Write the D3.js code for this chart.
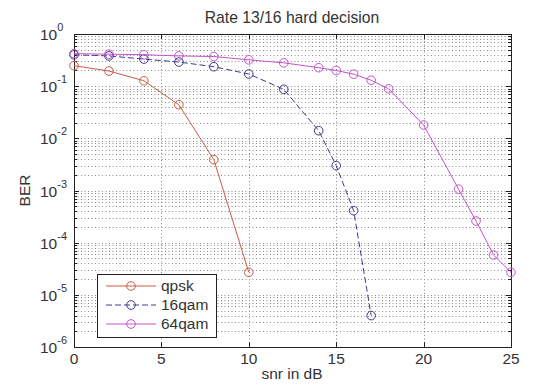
<!DOCTYPE html>
<html>
<head>
<meta charset="utf-8">
<script src="https://cdn.jsdelivr.net/npm/d3@7"></script>
<style>
  body { margin: 0; background: #fff; }
  svg text { font-family: "Liberation Sans", Arial, sans-serif; fill: #333; }
</style>
</head>
<body>
<svg id="chart" width="533" height="387"></svg>
<script>
// data
const snrQpsk = [0, 2, 4, 6, 8, 10];
const berQpsk = [0.247, 0.195, 0.127, 0.044, 0.0039, 2.7e-5];

const snr16 = [0, 2, 4, 6, 8, 10, 12, 14, 15, 16, 17];
const ber16 = [0.40, 0.38, 0.33, 0.29, 0.236, 0.171, 0.087, 0.014, 0.003, 4.1e-4, 4e-6];

const snr64 = [0, 2, 4, 6, 8, 10, 12, 14, 15, 16, 17, 18, 20, 22, 23, 24, 25];
const ber64 = [0.42, 0.41, 0.40, 0.38, 0.37, 0.32, 0.28, 0.226, 0.2, 0.17, 0.13, 0.089, 0.018, 0.00106, 2.6e-4, 5.8e-5, 2.7e-5];

const xTicks = [0, 5, 10, 15, 20, 25];
const yExponents = [0, -1, -2, -3, -4, -5, -6];
const seriesNames = ["qpsk", "16qam", "64qam"];

const title = "Rate 13/16 hard decision";
const xLabel = "snr in dB";
const yLabel = "BER";

const series = [
    { name: seriesNames[0], x: snrQpsk, y: berQpsk, color: "#cc5a4a", dash: null },
    { name: seriesNames[1], x: snr16, y: ber16, color: "#3c3c8c", dash: "6,3" },
    { name: seriesNames[2], x: snr64, y: ber64, color: "#c452cc", dash: null }
];

const svg = d3.select("#chart");
const pLeft = 74, pRight = 511, pTop = 34, pBottom = 347;

const x = d3.scaleLinear().domain([0, 25]).range([pLeft, pRight]);
const y = d3.scaleLog().domain([1e-6, 1]).range([pBottom, pTop]);

// grid
const grid = svg.append("g")
    .attr("stroke", "#8a8a8a")
    .attr("stroke-width", 1)
    .attr("stroke-dasharray", "1,2.5");

const minorVals = [];
for (let e = -6; e < 0; e++) {
    for (let m = 2; m <= 9; m++) minorVals.push(m * Math.pow(10, e));
}
const majorVals = yExponents.slice(1, -1).map(e => Math.pow(10, e));

grid.selectAll("line.ygrid")
    .data(minorVals.concat(majorVals))
    .enter().append("line")
    .attr("x1", pLeft).attr("x2", pRight)
    .attr("y1", d => Math.round(y(d)) + 0.5)
    .attr("y2", d => Math.round(y(d)) + 0.5);

grid.selectAll("line.xgrid")
    .data(xTicks.slice(1, -1))
    .enter().append("line")
    .attr("y1", pTop).attr("y2", pBottom)
    .attr("x1", d => Math.round(x(d)) + 0.5)
    .attr("x2", d => Math.round(x(d)) + 0.5);

// ticks (inward, on all four sides)
const ticks = svg.append("g").attr("stroke", "#222").attr("stroke-width", 1);
xTicks.forEach(t => {
    const px = Math.round(x(t)) + 0.5;
    ticks.append("line").attr("x1", px).attr("x2", px).attr("y1", pBottom).attr("y2", pBottom - 5);
    ticks.append("line").attr("x1", px).attr("x2", px).attr("y1", pTop).attr("y2", pTop + 5);
});
yExponents.forEach(e => {
    const py = Math.round(y(Math.pow(10, e))) + 0.5;
    ticks.append("line").attr("x1", pLeft).attr("x2", pLeft + 5).attr("y1", py).attr("y2", py);
    ticks.append("line").attr("x1", pRight).attr("x2", pRight - 5).attr("y1", py).attr("y2", py);
});
minorVals.forEach(v => {
    const py = Math.round(y(v)) + 0.5;
    ticks.append("line").attr("x1", pLeft).attr("x2", pLeft + 3).attr("y1", py).attr("y2", py);
    ticks.append("line").attr("x1", pRight).attr("x2", pRight - 3).attr("y1", py).attr("y2", py);
});

// frame
svg.append("rect")
    .attr("x", pLeft + 0.5).attr("y", pTop + 0.5)
    .attr("width", pRight - pLeft).attr("height", pBottom - pTop)
    .attr("fill", "none").attr("stroke", "#222");

// tick labels
svg.selectAll("text.xt")
    .data(xTicks)
    .enter().append("text")
    .attr("x", d => x(d))
    .attr("y", pBottom + 17)
    .attr("text-anchor", "middle")
    .attr("font-size", 15.5)
    .text(d => d);

const yt = svg.selectAll("text.yt")
    .data(yExponents)
    .enter().append("text")
    .attr("x", 40)
    .attr("y", d => y(Math.pow(10, d)) + 6)
    .attr("font-size", 15.5);
yt.append("tspan").text("10");
yt.append("tspan")
    .attr("dy", -9)
    .attr("font-size", 11)
    .text(d => d === 0 ? "0" : "-" + (-d));

// title and axis labels
svg.append("text")
    .attr("x", 292).attr("y", 23)
    .attr("text-anchor", "middle")
    .attr("font-size", 15.7)
    .text(title);

svg.append("text")
    .attr("x", 292).attr("y", 379)
    .attr("text-anchor", "middle")
    .attr("font-size", 15.5)
    .text(xLabel);

svg.append("text")
    .attr("transform", "translate(30," + ((pTop + pBottom) / 2) + ") rotate(-90)")
    .attr("text-anchor", "middle")
    .attr("font-size", 15.5)
    .text(yLabel);

// series
const line = d3.line().x(d => x(d[0])).y(d => y(d[1]));

series.forEach(s => {
    const pts = s.x.map((v, i) => [v, s.y[i]]);
    const g = svg.append("g");
    g.append("path")
        .datum(pts)
        .attr("fill", "none")
        .attr("stroke", s.color)
        .attr("stroke-width", 1)
        .attr("stroke-dasharray", s.dash)
        .attr("d", line);
    g.selectAll("circle")
        .data(pts)
        .enter().append("circle")
        .attr("cx", d => x(d[0]))
        .attr("cy", d => y(d[1]))
        .attr("r", 4.3)
        .attr("fill", "none")
        .attr("stroke", s.color)
        .attr("stroke-width", 1);
});

// legend
const legend = svg.append("g").attr("transform", "translate(97,274)");
legend.append("rect")
    .attr("x", 0.5).attr("y", 0.5)
    .attr("width", 119).attr("height", 63)
    .attr("fill", "#fff").attr("stroke", "#222");

series.forEach((s, i) => {
    const ly = 12 + i * 19;
    legend.append("line")
        .attr("x1", 9).attr("x2", 59)
        .attr("y1", ly).attr("y2", ly)
        .attr("stroke", s.color)
        .attr("stroke-dasharray", s.dash);
    legend.append("circle")
        .attr("cx", 34).attr("cy", ly).attr("r", 4.3)
        .attr("fill", "none").attr("stroke", s.color);
    legend.append("text")
        .attr("x", 64).attr("y", ly + 5)
        .attr("font-size", 15.5)
        .text(s.name);
});
</script>
</body>
</html>
